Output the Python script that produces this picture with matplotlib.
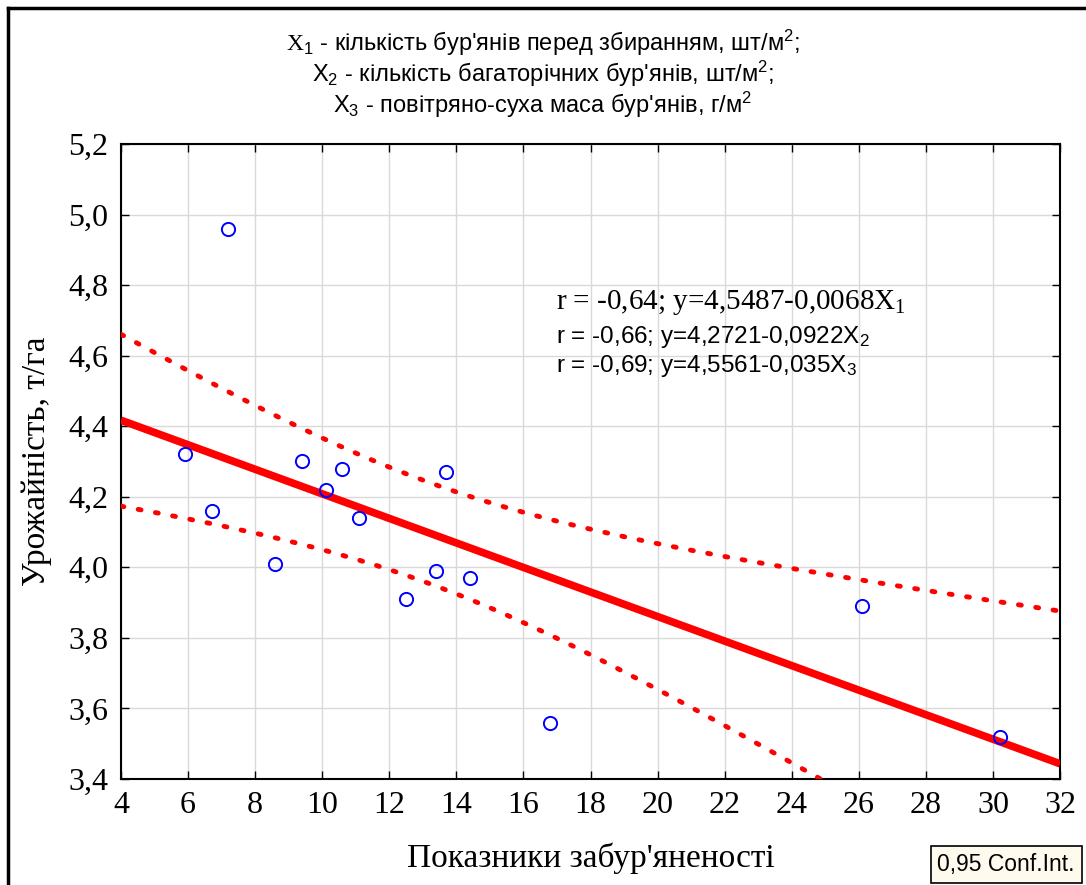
import numpy as np
import matplotlib.pyplot as plt
from matplotlib.lines import Line2D

# Дані
x_zab = [5.9, 7.2, 6.7, 8.6, 9.4, 10.6, 10.1, 11.1, 13.7, 12.5, 13.4, 14.4, 16.8, 26.1, 30.2]
y_urozh = [4.32, 4.96, 4.16, 4.01, 4.30, 4.28, 4.22, 4.14, 4.27, 3.91, 3.99, 3.97, 3.56, 3.89, 3.52]
x_ticks = list(range(4, 33, 2))
y_ticks = [3.4, 3.6, 3.8, 4.0, 4.2, 4.4, 4.6, 4.8, 5.0, 5.2]
t_crit = 2.160  # t(0.975; n-2=13)

plt.rcParams['mathtext.fontset'] = 'custom'
plt.rcParams['mathtext.rm'] = 'Liberation Serif'

x = np.array(x_zab)
y = np.array(y_urozh)
n = len(x)

# Лінійна регресія та 95% довірчий інтервал
b1, b0 = np.polyfit(x, y, 1)
resid = y - (b0 + b1 * x)
s = np.sqrt(np.sum(resid ** 2) / (n - 2))
sxx = np.sum((x - x.mean()) ** 2)
xx = np.linspace(4, 32, 200)
yy = b0 + b1 * xx
half = t_crit * s * np.sqrt(1 / n + (xx - x.mean()) ** 2 / sxx)

fig = plt.figure(figsize=(10.86, 8.85), dpi=100)
ax = fig.add_axes([0.1114, 0.1198, 0.8647, 0.7175])

ax.plot(xx, yy, color='red', lw=5.5, solid_capstyle='butt', zorder=3)
ax.plot(xx, yy + half, color='red', lw=3.5, linestyle=(0, (0.6, 3.0)),
        dash_capstyle='round', zorder=3)
ax.plot(xx, yy - half, color='red', lw=3.5, linestyle=(0, (0.6, 3.0)),
        dash_capstyle='round', zorder=3)
ax.plot(x, y, 'o', mfc='none', mec='blue', mew=1.4, ms=9.5, zorder=4)

ax.set_xlim(4, 32)
ax.set_ylim(3.4, 5.2)
ax.set_xticks(x_ticks)
ax.set_yticks(y_ticks)
ax.set_yticklabels([f'{v:.1f}'.replace('.', ',') for v in y_ticks])
ax.tick_params(direction='in', top=True, right=True, length=6, width=1,
               labelsize=23, pad=9)
for lab in ax.get_xticklabels() + ax.get_yticklabels():
    lab.set_family('Liberation Serif')
ax.grid(color='#d9d9d9', lw=1)
ax.set_axisbelow(True)
for sp in ax.spines.values():
    sp.set_linewidth(1.5)

ax.set_xlabel("Показники забур'яненості", fontsize=24, family='Liberation Serif', labelpad=16)
ax.set_ylabel('Урожайність, т/га', fontsize=24, family='Liberation Serif', labelpad=12)

# Пояснення змінних
fig.text(0.5, 0.952, r"$\mathrm{X}_{\mathregular{1}}$ - кількість бур'янів перед збиранням, шт/м$\mathregular{^2}$;",
         ha='center', va='center', fontsize=17, family='Liberation Sans')
fig.text(0.5, 0.917, r"$\mathregular{X_2}$ - кількість багаторічних бур'янів, шт/м$\mathregular{^2}$;",
         ha='center', va='center', fontsize=17, family='Liberation Sans')
fig.text(0.5, 0.882, r"$\mathregular{X_3}$ - повітряно-суха маса бур'янів, г/м$\mathregular{^2}$",
         ha='center', va='center', fontsize=17, family='Liberation Sans')

# Рівняння регресії
fig.text(0.512, 0.658, r"r = -0,64; y=4,5487-0,0068X$\mathregular{_1}$",
         ha='left', va='center', fontsize=21, family='Liberation Serif')
fig.text(0.512, 0.619, r"r = -0,66; y=4,2721-0,0922X$\mathregular{_2}$",
         ha='left', va='center', fontsize=17.5, family='Liberation Sans')
fig.text(0.512, 0.586, r"r = -0,69; y=4,5561-0,035X$\mathregular{_3}$",
         ha='left', va='center', fontsize=17.5, family='Liberation Sans')

fig.text(0.9265, 0.0235, '0,95 Conf.Int.', ha='center', va='center', fontsize=16.5,
         family='Liberation Sans',
         bbox=dict(boxstyle='square,pad=0.3', fc='#fffaee', ec='black', lw=1.2))

# Зовнішня рамка
fig.add_artist(Line2D([8 / 1086, 1], [1 - 8 / 885, 1 - 8 / 885], color='black', lw=2.5,
                      transform=fig.transFigure))
fig.add_artist(Line2D([8 / 1086, 8 / 1086], [0, 1 - 8 / 885], color='black', lw=2.5,
                      transform=fig.transFigure))

fig.savefig('out.png', dpi=100)
